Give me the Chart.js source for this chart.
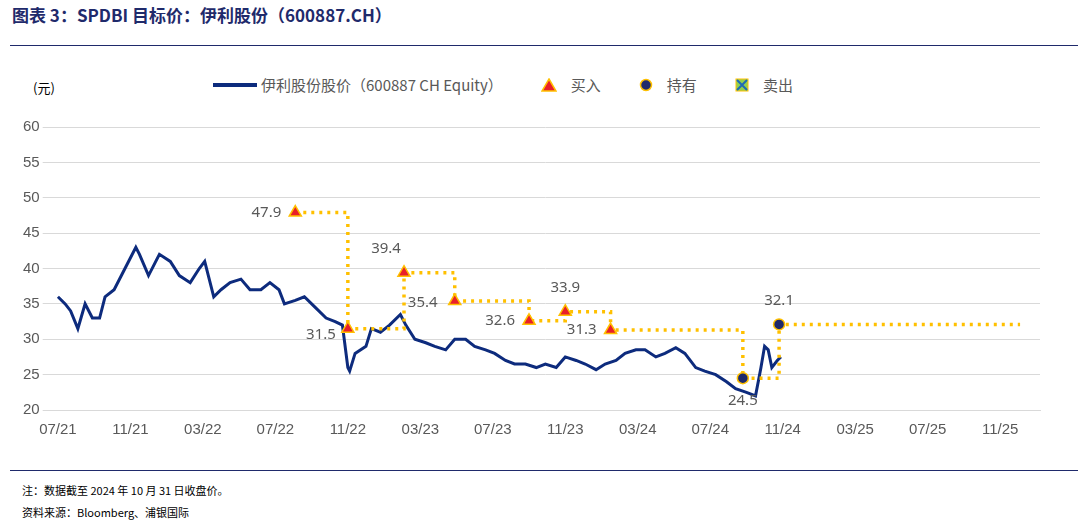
<!DOCTYPE html>
<html><head><meta charset="utf-8">
<script src="https://cdn.jsdelivr.net/npm/chart.js@4"></script>
<style>
body{margin:0;width:1084px;height:520px;background:#fff;font-family:"Noto Sans CJK SC","Noto Sans",sans-serif;position:relative;overflow:hidden}
#title{position:absolute;left:12px;top:2px;font-size:17px;font-weight:bold;color:#1f2a6b}
#hr1{position:absolute;left:10px;top:45px;width:1068px;height:1px;background:#1f2a6b}
#hr2{position:absolute;left:10px;top:470px;width:1068px;height:1px;background:#1f2a6b}
.note{position:absolute;left:22px;font-size:11px;color:#000}
#legend{position:absolute;top:74px;left:213px;font-size:15px;color:#595959;display:flex;align-items:center}
.li{display:flex;align-items:center;margin-right:38px}
#wrap{position:absolute;left:0;top:115px;width:1050px;height:327px}
</style></head><body>
<div id="title">图表 3：SPDBI 目标价：伊利股份（600887.CH）</div>
<div id="hr1"></div>
<div style="position:absolute;left:33px;top:78px;font-size:13px;color:#000">(元)</div>
<div id="legend">
<div class="li"><span style="display:inline-block;width:44px;height:4px;background:#0d2b7d;margin-right:4px"></span>伊利股份股价（600887 CH Equity）</div>
<div class="li"><svg width="16" height="14" style="margin-right:14px"><polygon points="8,1 15,13 1,13" fill="#e8202a" stroke="#ffc000" stroke-width="1.5"/></svg>买入</div>
<div class="li"><svg width="14" height="14" style="margin-right:14px"><circle cx="7" cy="7" r="5.5" fill="#1f2a6b" stroke="#ffc000" stroke-width="1.5"/></svg>持有</div>
<div class="li"><svg width="14" height="14" style="margin-right:14px"><rect x="1" y="1" width="12" height="12" fill="#92d050" stroke="#ffc000"/><path d="M2,2L12,12M12,2L2,12" stroke="#1f6bb5" stroke-width="2"/></svg>卖出</div>
</div>
<div id="wrap"><canvas id="c"></canvas></div>
<div id="hr2"></div>
<div class="note" style="top:482px">注：数据截至 2024 年 10 月 31 日收盘价。</div>
<div class="note" style="top:504px">资料来源：Bloomberg、浦银国际</div>
<script>
const tickLabels=['07/21','11/21','03/22','07/22','11/22','03/23','07/23','11/23','03/24','07/24','11/24','03/25','07/25','11/25'];
const priceMonths=[0,0.4,0.7,1.1,1.5,1.9,2.3,2.6,3.1,3.7,4.3,4.5,5.0,5.4,5.6,6.2,6.7,7.3,7.8,8.1,8.6,9.0,9.5,10.1,10.6,11.2,11.7,12.2,12.5,13.1,13.6,14.2,14.8,15.3,15.7,16.0,16.1,16.4,17.0,17.3,17.8,18.3,18.9,19.2,19.7,20.3,20.8,21.4,21.9,22.5,23.0,23.6,24.1,24.7,25.2,25.8,26.4,26.9,27.5,28.0,28.6,29.1,29.7,30.2,30.8,31.3,31.9,32.4,33.0,33.5,34.1,34.6,35.2,35.7,36.3,36.9,37.4,38.0,38.5,38.8,39.0,39.2,39.4,39.7,39.9];
const prices=[36,35,34,31.5,35,33,33,36,37,40,43,42,39,41,42,41,39,38,40,41,36,37,38,38.5,37,37,38,37,35,35.5,36,34.5,33,32.5,32,26,25.5,28,29,31.5,31,32,33.5,32,30,29.5,29,28.5,30,30,29,28.5,28,27,26.5,26.5,26,26.5,26,27.5,27,26.5,25.7,26.5,27,28,28.5,28.5,27.5,28,28.8,28,26,25.5,25,24,23,22.5,22,26,29,28.5,26,27,27.5];
const buyMonths=[13.1,16.0,19.1,21.9,26.0,28.0,30.5];
const buyTargets=[47.9,31.5,39.4,35.4,32.6,33.9,31.3];
const holdMonths=[37.8,39.8];
const holdTargets=[24.5,32.1];
const targetEndMonth=53.1;
const tMonths=[...buyMonths,...holdMonths,targetEndMonth];
const tVals=[...buyTargets,...holdTargets,32.1];
const xy=(a,b)=>a.map((v,i)=>({x:v,y:b[i]}));
const labelPos=['l','bl','a','b','l','a','l','b','a'];
const lblPlugin={id:'lbl',afterDatasetsDraw(ch){
 const ctx=ch.ctx,xs=ch.scales.x,ys=ch.scales.y;ctx.save();ctx.font='15px "Noto Sans","Liberation Sans",sans-serif';ctx.fillStyle='#595959';ctx.textBaseline='middle';
 const ms=[...buyMonths,...holdMonths],vs=[...buyTargets,...holdTargets];
 ms.forEach((m,i)=>{const px=xs.getPixelForValue(m),py=ys.getPixelForValue(vs[i]);const p=labelPos[i];let tx=px,ty=py,al='center';
  if(p==='l'){tx=px-14;al='right';}
  else if(p==='bl'){tx=px-12;ty=py+6;al='right';}
  else if(p==='a'){tx=i===2?px-18:px;ty=py-24;}
  else if(p==='b'){tx=i===3?px-32:px;ty=i===3?py+2:py+23;}
  ctx.textAlign=al;ctx.fillText(vs[i].toFixed(1),tx,ty);});
 ctx.restore();}};
new Chart(document.getElementById('c'),{type:'line',
data:{datasets:[
 {data:xy(buyMonths,buyTargets),showLine:false,pointStyle:'triangle',pointRadius:7,backgroundColor:'#e8202a',borderColor:'#ffc000',borderWidth:1.5,order:0},
 {data:xy(holdMonths,holdTargets),showLine:false,pointStyle:'circle',pointRadius:5.5,backgroundColor:'#1f2a6b',borderColor:'#ffc000',borderWidth:1.5,order:0},
 {data:xy(priceMonths,prices),borderColor:'#0d2b7d',borderWidth:3,pointRadius:0,tension:0,order:2},
 {data:xy(tMonths,tVals),stepped:'before',borderColor:'#ffc000',borderWidth:3.5,borderDash:[3,5],pointRadius:0,order:1}
]},
options:{animation:false,responsive:true,maintainAspectRatio:false,
 layout:{padding:{left:20,right:10,top:0,bottom:0}},
 plugins:{legend:{display:false},tooltip:{enabled:false}},
 scales:{
  x:{type:'linear',min:-0.4,max:54.2,afterBuildTicks(s){s.ticks=tickLabels.map((_,i)=>({value:i*4}));},
   ticks:{callback:(v)=>tickLabels[v/4],font:{size:15},color:'#595959',maxRotation:0,autoSkip:false},
   grid:{display:false},border:{color:'#d9d9d9'}},
  y:{min:20,max:60,ticks:{stepSize:5,font:{size:15},color:'#595959'},grid:{color:'#d9d9d9'},border:{display:false}}
 }}
,plugins:[lblPlugin]});
</script></body></html>
